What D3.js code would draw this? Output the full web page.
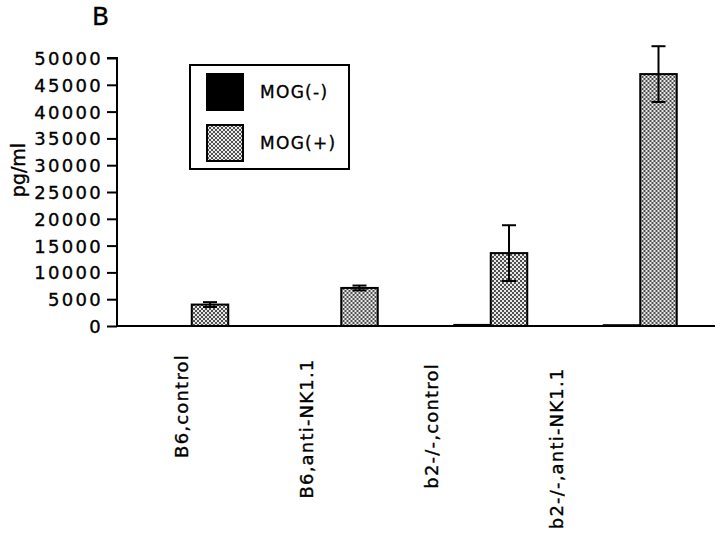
<!DOCTYPE html>
<html>
<head>
<meta charset="utf-8">
<script src="https://cdn.jsdelivr.net/npm/d3@7"></script>
<style>
  body { margin: 0; background: #fff; }
  text { font-family: "DejaVu Sans", sans-serif; fill: #000; stroke: #000; stroke-width: 0.35px; }
</style>
</head>
<body>
<div id="chart"></div>
<script>
'use strict';

const groups = ["B6,control", "B6,anti-NK1.1", "b2-/-,control", "b2-/-,anti-NK1.1"];
const series = ["MOG(-)", "MOG(+)"];
const mogNeg = [0, 0, 200, 150];
const mogPos = [4000, 7100, 13600, 47000];
const mogNegErr = [0, 0, 0, 0];
const mogPosErr = [450, 450, 5200, 5200];
const yTicks = [0, 5000, 10000, 15000, 20000, 25000, 30000, 35000, 40000, 45000, 50000];

const width = 720, height = 538;

const svg = d3.select('#chart').append('svg')
    .attr('width', width)
    .attr('height', height);

const defs = svg.append('defs');
const pat = defs.append('pattern')
    .attr('id', 'stipple')
    .attr('patternUnits', 'userSpaceOnUse')
    .attr('width', 4).attr('height', 4);
pat.append('rect').attr('width', 4).attr('height', 4).attr('fill', '#e8e8e8');
pat.append('rect').attr('width', 2).attr('height', 2).attr('fill', '#505050');
pat.append('rect').attr('x', 2).attr('y', 2).attr('width', 2).attr('height', 2).attr('fill', '#505050');

const fills = ['#000', 'url(#stipple)'];

const x0 = d3.scaleBand().domain(groups).range([117, 715]);
const x1 = d3.scaleBand().domain(series)
    .range([x0.bandwidth() / 2 - 36.5, x0.bandwidth() / 2 + 36.5]);
const labelX = d3.scaleBand().domain(groups).range([119, 619]);
const y = d3.scaleLinear().domain([0, 50000]).range([326, 58]);

const rows = groups.map(function (g, i) {
    return {
        group: g,
        values: [
            { s: series[0], v: mogNeg[i], e: mogNegErr[i] },
            { s: series[1], v: mogPos[i], e: mogPosErr[i] }
        ]
    };
});

// bars
const gg = svg.selectAll('g.grp').data(rows).enter().append('g')
    .attr('class', 'grp')
    .attr('transform', function (d) { return 'translate(' + x0(d.group) + ',0)'; });

gg.selectAll('rect').data(function (d) { return d.values; }).enter().append('rect')
    .attr('x', function (d) { return x1(d.s); })
    .attr('y', function (d) { return y(d.v); })
    .attr('width', x1.bandwidth())
    .attr('height', function (d) { return y(0) - y(d.v); })
    .attr('fill', function (d, i) { return fills[i]; })
    .attr('stroke', '#000')
    .attr('stroke-width', 2);

// error bars
const eb = gg.selectAll('g.err').data(function (d) { return d.values.filter(function (v) { return v.e > 0; }); })
    .enter().append('g').attr('class', 'err');
eb.append('line')
    .attr('x1', function (d) { return x1(d.s) + x1.bandwidth() / 2; })
    .attr('x2', function (d) { return x1(d.s) + x1.bandwidth() / 2; })
    .attr('y1', function (d) { return y(d.v - d.e); })
    .attr('y2', function (d) { return y(d.v + d.e); })
    .attr('stroke', '#000').attr('stroke-width', 2);
eb.selectAll('line.cap').data(function (d) { return [d.v - d.e, d.v + d.e].map(function (val) { return { s: d.s, val: val }; }); })
    .enter().append('line').attr('class', 'cap')
    .attr('x1', function (d) { return x1(d.s) + x1.bandwidth() / 2 - 7; })
    .attr('x2', function (d) { return x1(d.s) + x1.bandwidth() / 2 + 7; })
    .attr('y1', function (d) { return y(d.val); })
    .attr('y2', function (d) { return y(d.val); })
    .attr('stroke', '#000').attr('stroke-width', 2);

// y axis
const yAxis = svg.append('g')
    .attr('transform', 'translate(117,0)')
    .call(d3.axisLeft(y).tickValues(yTicks).tickSize(10).tickPadding(4).tickFormat(d3.format('d')));
yAxis.select('.domain').attr('stroke-width', 2).attr('d', 'M-10,' + y(50000) + 'H0V' + y(0));
yAxis.selectAll('.tick line').attr('stroke-width', 2);
yAxis.selectAll('.tick text')
    .style('font-size', '18px')
    .style('letter-spacing', '2.3px')
    .attr('dy', '0.36em');

// x axis line
svg.append('line')
    .attr('x1', x0.range()[0]).attr('x2', x0.range()[1])
    .attr('y1', y(0)).attr('y2', y(0))
    .attr('stroke', '#000').attr('stroke-width', 2);

// category labels
svg.selectAll('text.cat').data(groups).enter().append('text')
    .attr('class', 'cat')
    .attr('transform', function (d, i) { return 'translate(' + (labelX(d) + labelX.bandwidth() / 2 + 6) + ',' + (354 + 4.5 * i) + ') rotate(-90)'; })
    .attr('text-anchor', 'end')
    .style('font-size', '18px')
    .style('letter-spacing', '1.2px')
    .text(function (d) { return d; });

// y label
svg.append('text')
    .attr('transform', 'translate(25,170) rotate(-90)')
    .attr('text-anchor', 'middle')
    .style('font-size', '19px')
    .text('pg/ml');

// panel letter
svg.append('text')
    .attr('x', 92).attr('y', 25)
    .style('font-size', '25px')
    .text('B');

// legend
const leg = svg.append('g').attr('transform', 'translate(190,65)');
leg.append('rect')
    .attr('width', 159).attr('height', 104)
    .attr('fill', '#fff').attr('stroke', '#000').attr('stroke-width', 2);
const li = leg.selectAll('g.li').data(series).enter().append('g')
    .attr('class', 'li')
    .attr('transform', function (d, i) { return 'translate(17,' + (9 + i * 51) + ')'; });
li.append('rect')
    .attr('width', 36).attr('height', 36)
    .attr('fill', function (d, i) { return fills[i]; })
    .attr('stroke', '#000').attr('stroke-width', 2);
li.append('text')
    .attr('x', 53).attr('y', 18).attr('dy', '0.36em')
    .style('font-size', '17px')
    .style('letter-spacing', '1.3px')
    .text(function (d) { return d; });
</script>
</body>
</html>
